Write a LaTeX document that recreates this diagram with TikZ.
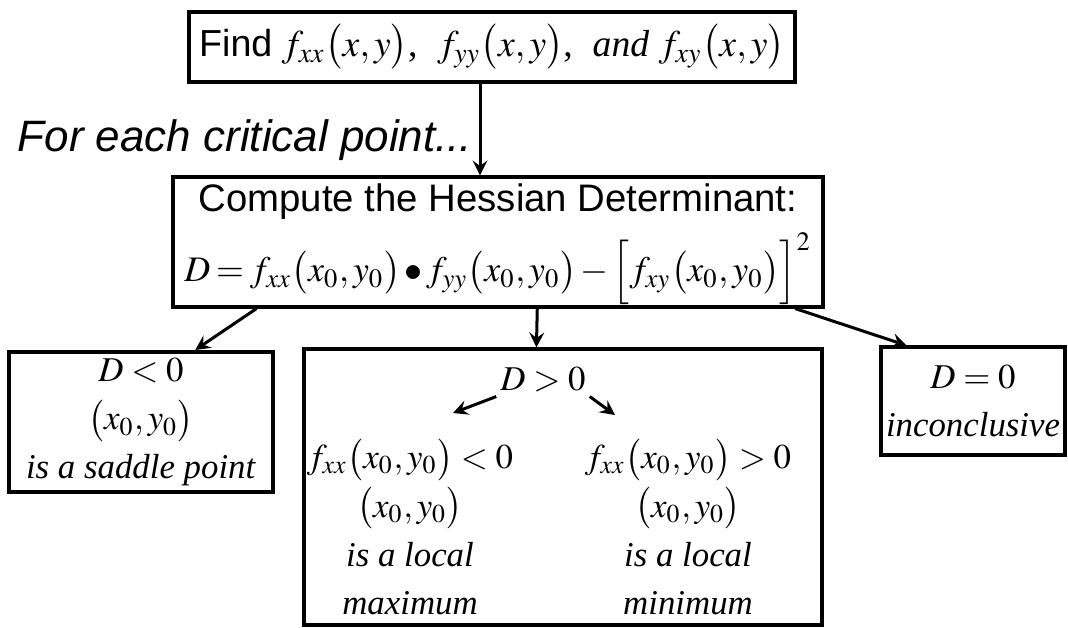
\documentclass[tikz,border=0pt]{standalone}
\usepackage{mathptmx}
\usepackage{fontspec}
\setmainfont{Liberation Serif}
\setsansfont{Liberation Sans}
\usetikzlibrary{positioning,arrows,calc}

\begin{document}
\begin{tikzpicture}[
  x=0.01cm,y=-0.01cm,
  box/.style={rectangle,draw,line width=0.04cm,inner sep=0pt,align=center},
  flow/.style={->,>=stealth,line width=0.03cm},
  rule/.style={font=\fontsize{9.9}{13.9}\selectfont,align=center},
  tight/.style={execute at begin node={\medmuskip=2mu\thickmuskip=3mu}},
]
\useasboundingbox (0,0) rectangle (1068,627);

% ==== TOP: second partial derivatives ====
\node[box,font=\fontsize{10.7}{13}\selectfont,minimum width=6.05cm,minimum height=0.69cm] (find) at (492,47)
  {{\sffamily Find} $f_{xx}\bigl(x,y\bigr)$,\; $f_{yy}\bigl(x,y\bigr)$,\; \textit{and} $f_{xy}\bigl(x,y\bigr)$};
\node[font=\fontsize{12.5}{14}\sffamily\itshape,anchor=east,inner sep=2pt] (each) at (480,140) {For each critical point...};

% ==== MIDDLE: Hessian determinant ====
\node[box,minimum width=6.50cm,minimum height=1.29cm] (hess) at (498,242) {};
\node[font=\fontsize{10.9}{13}\sffamily,inner sep=1pt] (hesstitle) at (498,202) {Compute the Hessian Determinant:};
\node[tight,font=\fontsize{10.2}{13}\selectfont,inner sep=1pt] (hessform) at (498,269)
  {$D=f_{xx}\bigl(x_0,y_0\bigr)\bullet f_{yy}\bigl(x_0,y_0\bigr)-\Bigl[f_{xy}\bigl(x_0,y_0\bigr)\Bigr]^2$};

% ==== BOTTOM: the three cases ====
\node[box,rule,minimum width=2.63cm,minimum height=1.40cm] (neg) at (141,422)
  {$D<0$\\ $\bigl(x_0,y_0\bigr)$\\ \textit{is a saddle point}};
\node[box,minimum width=5.17cm,minimum height=2.75cm] (pos) at (563,487) {};
\node[box,rule,minimum width=1.84cm,minimum height=1.07cm] (zero) at (973,401)
  {$D=0$\\ \textit{inconclusive}};

% D > 0 splits into max / min
\node[rule,inner sep=1pt] (dpos) at (543,380) {$D>0$};
\node[rule] (locmax) at (410,527)
  {$f_{xx}\bigl(x_0,y_0\bigr)<0$\\ $\bigl(x_0,y_0\bigr)$\\ \textit{is a local}\\ \textit{maximum}};
\node[rule] (locmin) at (688,527)
  {$f_{xx}\bigl(x_0,y_0\bigr)>0$\\ $\bigl(x_0,y_0\bigr)$\\ \textit{is a local}\\ \textit{minimum}};
\coordinate (maxtip) at (453,413);
\coordinate (mintip) at (615,415);

% Arrows
\draw[flow] (find.south -| each.east) -- (hess.north -| each.east);
\draw[flow] ($(hess.south west)!0.131!(hess.south east)$) -- ($(neg.north west)!0.703!(neg.north east)$);
\draw[flow] ($(hess.south west)!0.56!(hess.south east)$) -- ($(pos.north west)!0.449!(pos.north east)$);
\draw[flow] ($(hess.south west)!0.954!(hess.south east)$) -- ($(zero.north west)!0.147!(zero.north east)$);
\draw[flow] (dpos.south west) -- (maxtip);
\draw[flow] (dpos.south east) -- (mintip);

\end{tikzpicture}
\end{document}
